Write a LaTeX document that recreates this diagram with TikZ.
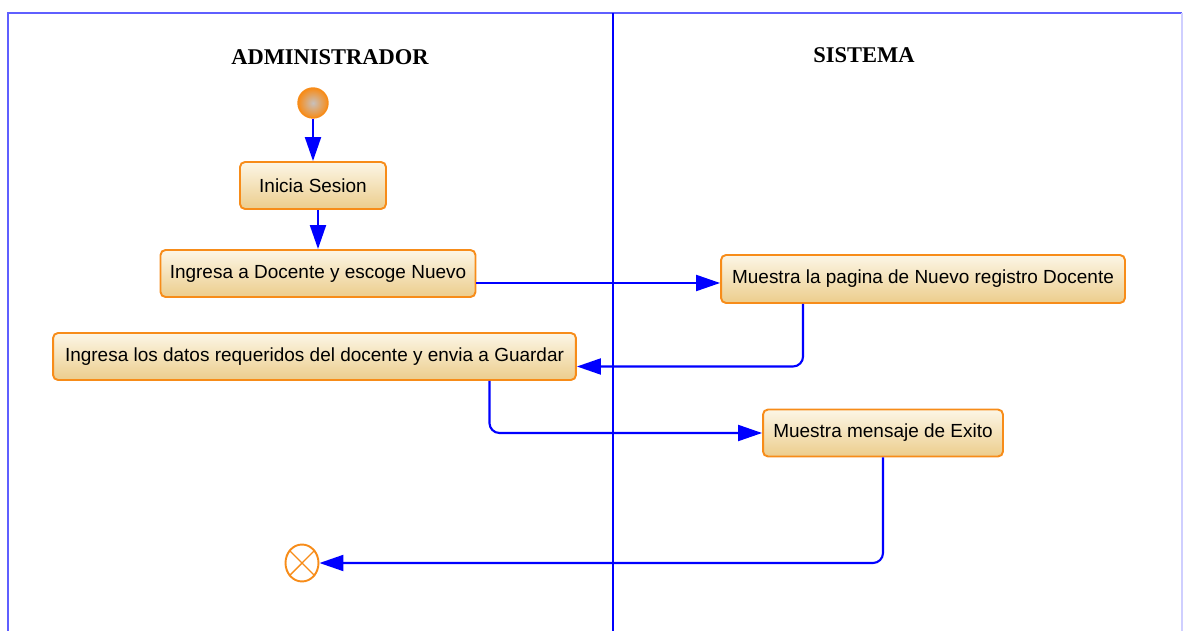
\documentclass[tikz,border=0pt]{standalone}
\usepackage{fontspec}
\setmainfont{Liberation Sans}
\newfontfamily\titlefont{Liberation Serif}
\usepackage{xcolor}
\usepackage{tikz}
\usetikzlibrary{calc, shapes.geometric, positioning, arrows.meta}

\definecolor{laneblue}{RGB}{95,95,255}
\definecolor{flowblue}{RGB}{0,0,255}
\definecolor{actborder}{RGB}{247,140,25}
\definecolor{actlight}{RGB}{252,246,230}
\definecolor{actdark}{RGB}{236,205,140}
\definecolor{startgray}{RGB}{200,192,188}

\tikzset{
    actividad/.style={draw=actborder, line width=1.1pt, rounded corners=0.1cm,
        top color=actlight, bottom color=actdark, minimum height=0.94cm,
        inner xsep=0.1cm, font=\fontsize{10.8}{13}\selectfont},
    flujo/.style={->, draw=flowblue, line width=1.2pt},
    carril/.style={draw=laneblue, line width=1.1pt},
    titulo/.style={font=\titlefont\bfseries\fontsize{12.8}{15}\selectfont}
}

\begin{document}
\begin{tikzpicture}[x=0.02cm, y=-0.02cm, >={Triangle[length=0.48cm, width=0.32cm]}]
    % 1. Marco y carriles
    \useasboundingbox (0,0) rectangle (1183,631);
    \draw[carril] (8,631) -- (8,13) -- (1182,13);
    \draw[carril, draw=laneblue!30] (1182,13) -- (1182,631);
    \draw[carril, draw=flowblue] (613,13) -- (613,631);

    % 2. Encabezados de los carriles
    \node[titulo] (admin) at (330,57) {ADMINISTRADOR};
    \node[titulo] (sistema) at (864,55) {SISTEMA};

    % 3. Nodos de actividad
    \node[circle, minimum size=0.6cm, inner sep=0pt, draw=actborder, line width=0.8pt,
        inner color=startgray, outer color=actborder] (inicio) at (313,103) {};
    \node[actividad, minimum width=2.92cm] (sesion) at (313,185.5) {Inicia Sesion};
    \node[actividad, minimum width=6.3cm] (docente) at (318,273.5) {Ingresa a Docente y escoge Nuevo};
    \node[actividad, minimum width=10.46cm] (datos) at (314.5,356.5) {Ingresa los datos requeridos del docente y envia a Guardar};
    \node[actividad, minimum width=8.08cm, minimum height=0.96cm] (pagina) at (923,279) {Muestra la pagina de Nuevo registro Docente};
    \node[actividad, minimum width=4.8cm] (exito) at (883,433) {Muestra mensaje de Exito};
    \node[ellipse, draw=actborder, line width=1.1pt, minimum width=0.66cm,
        minimum height=0.74cm, inner sep=0pt] (fin) at (302,563) {};
    \draw[actborder, line width=0.8pt] (fin.45) -- (fin.225) (fin.135) -- (fin.315);

    % 4. Flujos
    \draw[flujo] (inicio) -- (sesion);
    \draw[flujo] (sesion.south -| docente.north) -- (docente.north);
    \draw[flujo] ([yshift=-0.19cm]docente.east) -- ([yshift=-0.19cm]docente.east -| pagina.west);
    \draw[flujo, rounded corners=0.2cm] ([xshift=-2.4cm]pagina.south) |- ([yshift=-0.2cm]datos.east);
    \draw[flujo, rounded corners=0.2cm] ([xshift=3.5cm]datos.south) |- (exito.west);
    \draw[flujo, rounded corners=0.2cm] (exito.south) |- (fin.east);
\end{tikzpicture}
\end{document}
